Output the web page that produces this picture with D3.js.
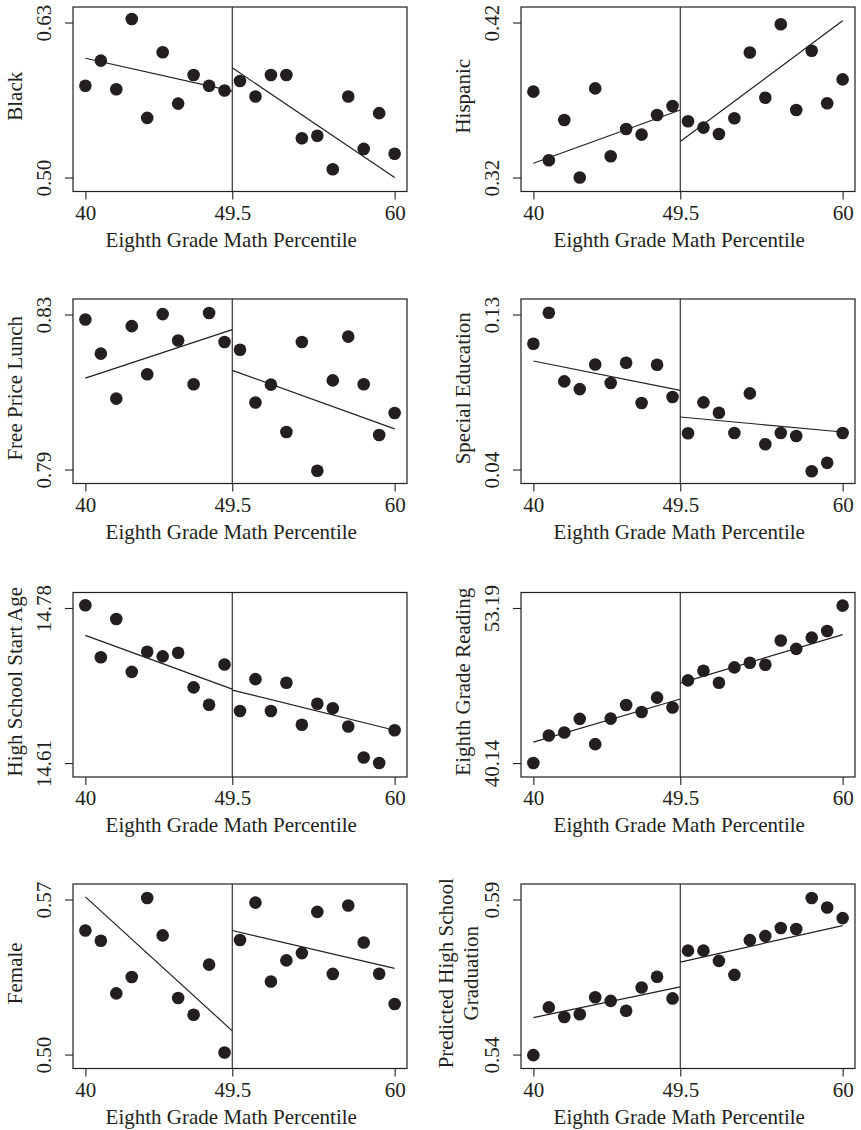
<!DOCTYPE html>
<html>
<head>
<meta charset="utf-8">
<script src="https://cdn.jsdelivr.net/npm/d3@7"></script>
<style>
  html, body { margin: 0; padding: 0; background: #fff; }
  svg { display: block; }
</style>
</head>
<body>
<div id="chart"></div>
<script>
// Eighth grade math percentile (running variable), cutoff at 49.5
const xTicks = [40, 49.5, 60];
const cutoff = 49.5;
const xValues = [40, 41, 42, 43, 44, 45, 46, 47, 48, 49, 50, 51, 52, 53, 54, 55, 56, 57, 58, 59, 60];
const xLabel = "Eighth Grade Math Percentile";

// fits: [left @40, left @49.5, right @49.5, right @60]
const blackTicks = [0.50, 0.63];
const blackValues = [0.577, 0.598, 0.574, 0.633, 0.550, 0.605, 0.562, 0.586, 0.577, 0.573,
  0.581, 0.568, 0.586, 0.586, 0.533, 0.535, 0.507, 0.568, 0.524, 0.554, 0.520];
const blackFit = [0.600, 0.5725, 0.592, 0.500];

const hispanicTicks = [0.32, 0.42];
const hispanicValues = [0.3754, 0.3312, 0.3571, 0.3200, 0.3775, 0.3337, 0.3513, 0.3477, 0.3603, 0.3661,
  0.3563, 0.3522, 0.3481, 0.3582, 0.4007, 0.3715, 0.4189, 0.3636, 0.4018, 0.3679, 0.3833];
const hispanicFit = [0.3292, 0.3636, 0.3432, 0.4212];

const lunchTicks = [0.79, 0.83];
const lunchValues = [0.8287, 0.8199, 0.8083, 0.8270, 0.8146, 0.8301, 0.8233, 0.8120, 0.8304, 0.8229,
  0.8209, 0.8073, 0.8119, 0.7997, 0.8229, 0.7897, 0.8130, 0.8243, 0.8120, 0.7989, 0.8046];
const lunchFit = [0.8136, 0.8261, 0.8156, 0.8005];

const specialTicks = [0.04, 0.13];
const specialValues = [0.1130, 0.1310, 0.0912, 0.0867, 0.1010, 0.0902, 0.1020, 0.0786, 0.1008, 0.0821,
  0.0611, 0.0790, 0.0730, 0.0612, 0.0842, 0.0547, 0.0612, 0.0595, 0.0390, 0.0439, 0.0612];
const specialFit = [0.1030, 0.0860, 0.0705, 0.0618];

const ageTicks = [14.61, 14.78];
const ageValues = [14.783, 14.726, 14.768, 14.710, 14.732, 14.727, 14.731, 14.693, 14.674, 14.718,
  14.667, 14.702, 14.667, 14.698, 14.652, 14.675, 14.670, 14.650, 14.616, 14.610, 14.646];
const ageFit = [14.750, 14.691, 14.690, 14.646];

const readingTicks = [40.14, 53.19];
const readingValues = [40.14, 42.46, 42.71, 43.86, 41.73, 43.88, 45.03, 44.44, 45.65, 44.81,
  47.10, 47.91, 46.90, 48.19, 48.58, 48.41, 50.45, 49.75, 50.70, 51.26, 53.39];
const readingFit = [41.90, 45.53, 46.87, 50.95];

const femaleTicks = [0.50, 0.57];
const femaleValues = [0.5560, 0.5514, 0.5276, 0.5350, 0.5707, 0.5538, 0.5255, 0.5180, 0.5406, 0.5009,
  0.5517, 0.5686, 0.5330, 0.5425, 0.5458, 0.5644, 0.5364, 0.5673, 0.5506, 0.5365, 0.5228];
const femaleFit = [0.5712, 0.5107, 0.5560, 0.5389];

const gradTicks = [0.54, 0.59];
const gradValues = [0.5398, 0.5552, 0.5521, 0.5530, 0.5585, 0.5573, 0.5541, 0.5616, 0.5651, 0.5581,
  0.5735, 0.5735, 0.5702, 0.5657, 0.5769, 0.5782, 0.5808, 0.5805, 0.5905, 0.5874, 0.5840];
const gradFit = [0.5519, 0.5618, 0.5698, 0.5816];

const panels = [
  { label: ["Black"], ticks: blackTicks, values: blackValues, fit: blackFit },
  { label: ["Hispanic"], ticks: hispanicTicks, values: hispanicValues, fit: hispanicFit },
  { label: ["Free Price Lunch"], ticks: lunchTicks, values: lunchValues, fit: lunchFit },
  { label: ["Special Education"], ticks: specialTicks, values: specialValues, fit: specialFit },
  { label: ["High School Start Age"], ticks: ageTicks, values: ageValues, fit: ageFit },
  { label: ["Eighth Grade Reading"], ticks: readingTicks, values: readingValues, fit: readingFit },
  { label: ["Female"], ticks: femaleTicks, values: femaleValues, fit: femaleFit },
  { label: ["Predicted High School", "Graduation"], ticks: gradTicks, values: gradValues, fit: gradFit },
];

const W = 861, H = 1130;
const colLeft = [73, 521];
const rowTop = [7, 299, 592.5, 884];
const pw = 334, ph = 184.5;
const INK = "#231f20";
const FONT = "'Liberation Serif', 'Times New Roman', Times, serif";

const svg = d3.select("#chart").append("svg")
  .attr("width", W).attr("height", H)
  .attr("font-family", FONT)
  .attr("fill", INK);

const fmt = d3.format(".2f");

panels.forEach((p, i) => {
  const left = colLeft[i % 2];
  const top = rowTop[Math.floor(i / 2)];
  const g = svg.append("g").attr("transform", `translate(${left},${top})`);

  const x = d3.scaleLinear().domain([39.2, 60.8]).range([0, pw]);
  const [lo, hi] = p.ticks;
  const span = hi - lo;
  const y = d3.scaleLinear().domain([lo - span * 0.09, hi + span * 0.1]).range([ph, 0]);

  // axes
  const xAxis = d3.axisBottom(x).tickValues(xTicks).tickSize(8).tickPadding(4)
    .tickFormat(d3.format(""));
  g.append("g").attr("transform", `translate(0,${ph})`).call(xAxis)
    .call(a => a.select(".domain").remove())
    .call(a => a.selectAll("line").attr("stroke", INK).attr("stroke-width", 1.1))
    .call(a => a.selectAll("text").attr("fill", INK).attr("font-size", 21)
      .attr("font-family", FONT).attr("dy", null).attr("y", 28));

  const yAxis = d3.axisLeft(y).tickValues(p.ticks).tickSize(8).tickFormat(fmt);
  g.append("g").call(yAxis)
    .call(a => a.select(".domain").remove())
    .call(a => a.selectAll("line").attr("stroke", INK).attr("stroke-width", 1.1))
    .call(a => a.selectAll("text").attr("fill", INK).attr("font-size", 21)
      .attr("font-family", FONT).attr("x", null).attr("dy", null)
      .attr("text-anchor", "middle")
      .attr("transform", "translate(-22,0) rotate(-90)"));

  // frame
  g.append("rect").attr("width", pw).attr("height", ph)
    .attr("fill", "none").attr("stroke", INK).attr("stroke-width", 1.2);

  // cutoff line
  g.append("line")
    .attr("x1", x(cutoff)).attr("x2", x(cutoff))
    .attr("y1", 0).attr("y2", ph)
    .attr("stroke", INK).attr("stroke-width", 1.1);

  // fitted lines on each side of the cutoff
  const segs = [
    [[xTicks[0], p.fit[0]], [cutoff, p.fit[1]]],
    [[cutoff, p.fit[2]], [xTicks[2], p.fit[3]]],
  ];
  const line = d3.line().x(d => x(d[0])).y(d => y(d[1]));
  g.selectAll("path.fit").data(segs).join("path")
    .attr("class", "fit")
    .attr("d", line)
    .attr("fill", "none").attr("stroke", INK).attr("stroke-width", 1.2);

  // binned means
  g.selectAll("circle").data(p.values).join("circle")
    .attr("cx", (d, j) => x(xValues[j]))
    .attr("cy", d => y(d))
    .attr("r", 6.3)
    .attr("fill", INK);

  // x label
  g.append("text")
    .attr("x", x(cutoff) - 1).attr("y", ph + 55)
    .attr("text-anchor", "middle").attr("font-size", 21)
    .text(xLabel);

  // y label (one or two lines)
  const offs = p.label.length === 1 ? [-51] : [-68, -43];
  p.label.forEach((t, k) => {
    g.append("text")
      .attr("transform", `translate(${offs[k]},${ph / 2 - 3}) rotate(-90)`)
      .attr("text-anchor", "middle").attr("font-size", 21)
      .text(t);
  });
});
</script>
</body>
</html>
